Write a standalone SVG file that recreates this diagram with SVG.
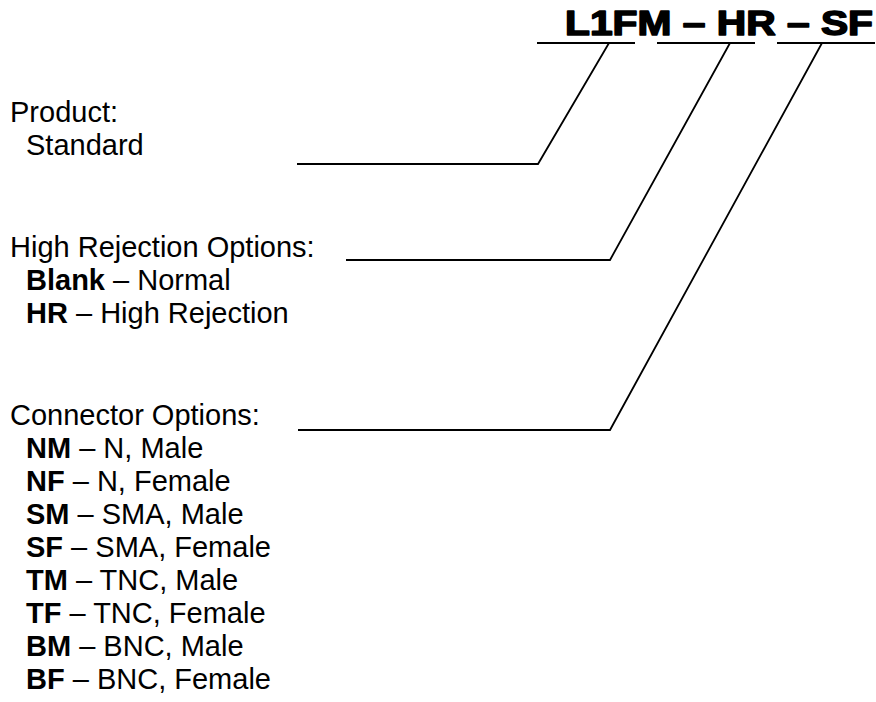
<svg xmlns="http://www.w3.org/2000/svg" width="876" height="702" viewBox="0 0 876 702">
<style>
text{font-family:"Liberation Sans",Arial,sans-serif;font-size:29px;fill:#000}
.b{font-weight:bold}
.title{font-size:35px;font-weight:bold;stroke:#000;stroke-width:1.6;stroke-linejoin:round}
.ln{fill:none;stroke:#000;stroke-width:1.8;stroke-linejoin:miter}
</style>
<rect width="876" height="702" fill="#fff"/>
<g id="title">
<text class="title" x="565" y="35" textLength="308" lengthAdjust="spacingAndGlyphs">L1FM – HR – SF</text>
</g>
<g id="product">
<text x="10" y="122">Product:</text>
<text x="26" y="155">Standard</text>
</g>
<g id="hr-options">
<text x="10" y="257">High Rejection Options:</text>
<text x="26" y="290"><tspan class="b">Blank</tspan> – Normal</text>
<text x="26" y="323"><tspan class="b">HR</tspan> – High Rejection</text>
</g>
<g id="connector-options">
<text x="10" y="425">Connector Options:</text>
<text x="26" y="458"><tspan class="b">NM</tspan> – N, Male</text>
<text x="26" y="491"><tspan class="b">NF</tspan> – N, Female</text>
<text x="26" y="524"><tspan class="b">SM</tspan> – SMA, Male</text>
<text x="26" y="557"><tspan class="b">SF</tspan> – SMA, Female</text>
<text x="26" y="590"><tspan class="b">TM</tspan> – TNC, Male</text>
<text x="26" y="623"><tspan class="b">TF</tspan> – TNC, Female</text>
<text x="26" y="656"><tspan class="b">BM</tspan> – BNC, Male</text>
<text x="26" y="689"><tspan class="b">BF</tspan> – BNC, Female</text>
</g>
<g id="connectors">
<line class="ln" x1="537" y1="43" x2="635" y2="43"/>
<line class="ln" x1="657" y1="43" x2="755" y2="43"/>
<line class="ln" x1="777" y1="43" x2="875" y2="43"/>
<polyline class="ln" points="297,164 538,164 609,43"/>
<polyline class="ln" points="346,260 610,260 730,43"/>
<polyline class="ln" points="298,430 610,430 822,43"/>
</g>
</svg>
